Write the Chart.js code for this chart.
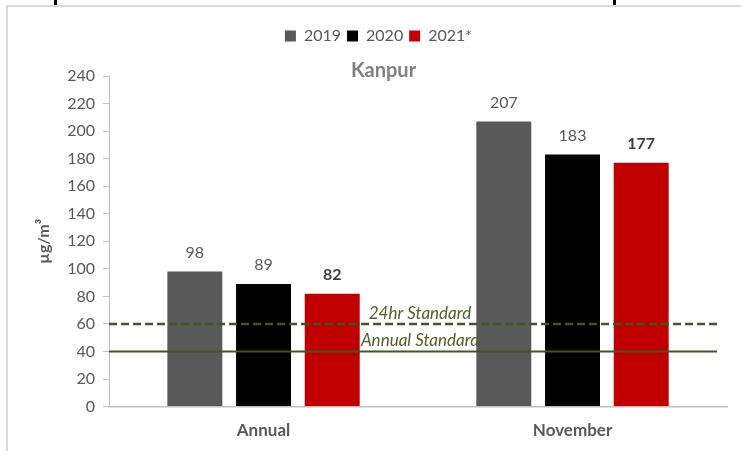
<!DOCTYPE html>
<html>
<head>
<meta charset="utf-8">
<title>Kanpur</title>
<script src="https://cdn.jsdelivr.net/npm/chart.js@4.4.0/dist/chart.umd.min.js"></script>
<style>
    html, body { margin: 0; padding: 0; background: #fff; }
    body { width: 741px; height: 451px; position: relative; overflow: hidden; }
    #frame { position: absolute; left: 6px; top: 5px; width: 740px; height: 450px;
             border-top: 2px solid #d9d9d9; border-left: 2px solid #d9d9d9; }
    .mark { position: absolute; top: 0; width: 3px; height: 5px; background: #000; }
    #wrap { position: absolute; left: 0; top: 0; width: 741px; height: 451px; }
</style>
</head>
<body>
<div id="frame"></div>
<div class="mark" style="left:54px"></div>
<div class="mark" style="left:613px"></div>
<div id="wrap"><canvas id="kanpurChart"></canvas></div>

<script>
// Data
const categories = ['Annual', 'November'];
const seriesNames = ['2019', '2020', '2021*'];
const values2019 = [98, 207];
const values2020 = [89, 183];
const values2021 = [82, 177];
const standardValues = [60, 40];
const standardNames = ['24hr Standard', 'Annual Standard'];
const yMax = 240;
const yStep = 20;

const FONT = 'Lato, "Open Sans", sans-serif';
const GREY = '#595959';
const GREEN = '#3b5a23';

// Tambah jarak di bawah legend (tempat judul Kanpur)
const legendSpace = {
    id: 'legendSpace',
    beforeInit(chart) {
        const fit = chart.legend.fit;
        chart.legend.fit = function () {
            fit.bind(chart.legend)();
            this.height += 22;
        };
    }
};

// Garis standar (60 putus-putus, 40 garis penuh) + teks miring
const standardPlugin = {
    id: 'standards',
    afterDatasetsDraw(chart) {
        const { ctx, chartArea, scales } = chart;
        const y = scales.y;
        const mid = (chartArea.left + chartArea.right) / 2;
        standardValues.forEach((val, i) => {
            const py = y.getPixelForValue(val);
            ctx.save();
            ctx.strokeStyle = GREEN;
            ctx.lineWidth = i === 0 ? 2.5 : 2;
            ctx.setLineDash(i === 0 ? [8, 4] : []);
            ctx.beginPath();
            ctx.moveTo(chartArea.left, py);
            ctx.lineTo(chartArea.right - 10, py);
            ctx.stroke();
            ctx.setLineDash([]);
            ctx.fillStyle = '#4f6228';
            ctx.font = 'italic 17px ' + FONT;
            ctx.textAlign = 'center';
            ctx.textBaseline = 'bottom';
            ctx.fillText(standardNames[i], mid + 2, py - 2);
            ctx.restore();
        });
    }
};

// Label angka di atas bar + judul Kanpur
const labelPlugin = {
    id: 'barLabels',
    afterDraw(chart) {
        const { ctx, chartArea } = chart;
        ctx.save();
        chart.data.datasets.forEach((ds, di) => {
            const meta = chart.getDatasetMeta(di);
            meta.data.forEach((bar, idx) => {
                ctx.font = (di === 2 ? 'bold ' : '') + '16px ' + FONT;
                ctx.fillStyle = di === 2 ? '#404040' : GREY;
                ctx.textAlign = 'center';
                ctx.textBaseline = 'bottom';
                ctx.fillText(ds.data[idx], bar.x, bar.y - 11);
            });
        });
        ctx.font = 'bold 20px ' + FONT;
        ctx.fillStyle = '#808080';
        ctx.textAlign = 'center';
        ctx.textBaseline = 'bottom';
        ctx.fillText('Kanpur', chart.width / 2 + 13, chartArea.top + 5);
        ctx.restore();
    }
};

const ctx = document.getElementById('kanpurChart').getContext('2d');
new Chart(ctx, {
    type: 'bar',
    data: {
        labels: categories,
        datasets: [
            { label: seriesNames[0], data: values2019, backgroundColor: '#595959' },
            { label: seriesNames[1], data: values2020, backgroundColor: '#000000' },
            { label: seriesNames[2], data: values2021, backgroundColor: '#c00000' }
        ]
    },
    options: {
        responsive: true,
        maintainAspectRatio: false,
        animation: false,
        categoryPercentage: 0.667,
        barPercentage: 0.8,
        borderWidth: 0,
        layout: { padding: { left: 30, right: 14, top: 22, bottom: 4 } },
        plugins: {
            title: { display: false },
            tooltip: { enabled: false },
            legend: {
                position: 'top',
                labels: {
                    boxWidth: 11,
                    boxHeight: 11,
                    color: GREY,
                    font: { family: FONT, size: 16 },
                    padding: 6
                }
            }
        },
        scales: {
            x: {
                grid: { display: false },
                border: { color: '#bfbfbf', width: 1.5 },
                ticks: { color: GREY, font: { family: FONT, size: 17, weight: 'bold' }, padding: 6 }
            },
            y: {
                min: 0,
                max: yMax,
                ticks: { stepSize: yStep, color: GREY, font: { family: FONT, size: 16 }, padding: 8 },
                grid: { drawOnChartArea: false, drawTicks: true, tickLength: 6, color: '#bfbfbf' },
                border: { color: '#bfbfbf' },
                title: { display: true, text: 'µg/m³', color: GREY, font: { family: FONT, size: 16, weight: 'bold' }, padding: { bottom: 6 } }
            }
        }
    },
    plugins: [legendSpace, standardPlugin, labelPlugin]
});
</script>
</body>
</html>
